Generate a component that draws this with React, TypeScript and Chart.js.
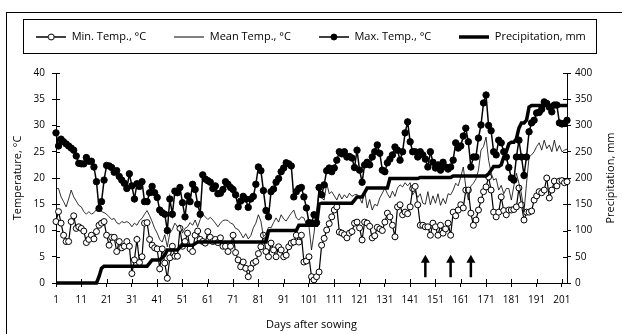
import React, { useEffect, useRef } from "react";
import { Chart, registerables } from "chart.js";

Chart.register(...registerables);

// ---- data ----
const seriesLabels = ["Min. Temp., °C", "Mean Temp., °C", "Max. Temp., °C", "Precipitation, mm"];
const rightAxisTitle = "Precipitation, mm";

const minTemp = [
  11.7, 13.6, 11.4, 9.1, 7.9, 7.9, 11.7, 12.8, 10.4, 10.7,
  10.4, 9.9, 7.7, 8.3, 9.1, 8.4, 9.8, 11.0, 11.4, 11.7,
  9.1, 7.2, 8.7, 8.7, 6.0, 7.9, 6.7, 7.0, 7.9, 7.0,
  1.8, 4.4, 8.3, 3.9, 5.0, 11.4, 11.5, 8.3, 7.2, 6.7,
  6.5, 2.7, 6.5, 3.8, 0.9, 4.8, 7.0, 5.1, 5.1, 10.4,
  7.0, 7.9, 9.5, 6.5, 6.0, 9.1, 9.9, 8.3, 7.9, 7.6,
  9.8, 8.7, 7.9, 8.3, 7.7, 8.6, 7.0, 7.0, 6.0, 7.0,
  9.1, 5.8, 4.4, 3.1, 4.0, 2.8, 1.2, 2.8, 3.8, 4.1,
  5.6, 6.9, 9.1, 6.0, 5.0, 7.6, 6.3, 5.0, 6.9, 6.3,
  5.0, 5.3, 6.9, 7.6, 7.8, 9.1, 7.8, 9.1, 4.0, 4.2,
  5.0, 1.2, 0.6, 1.2, 2.1, 7.2, 8.5, 10.1, 11.3, 12.6,
  13.9, 14.5, 9.7, 9.5, 9.2, 8.6, 9.5, 9.8, 11.4, 11.6,
  10.5, 8.2, 11.6, 11.4, 10.8, 8.6, 9.0, 10.6, 10.3, 10.0,
  11.6, 13.3, 12.6, 11.0, 8.8, 14.5, 14.9, 13.0, 13.5, 13.2,
  14.5, 18.0, 18.4, 14.9, 11.0, 11.0, 10.7, 10.7, 9.1, 11.4,
  10.7, 9.1, 11.0, 9.5, 10.3, 11.4, 9.1, 13.5, 12.8, 13.9,
  14.9, 14.3, 17.7, 17.7, 13.3, 11.0, 12.0, 13.9, 15.8, 17.4,
  18.3, 20.2, 17.7, 13.5, 12.6, 13.5, 16.4, 13.8, 13.0, 13.9,
  13.9, 14.0, 14.5, 18.1, 14.9, 12.0, 13.5, 13.5, 13.7, 15.8,
  16.6, 17.4, 17.2, 17.7, 20.0, 16.2, 17.7, 19.4, 18.5, 19.4,
  19.5, 19.1, 19.3,
];

const meanTemp = [
  18.0, 18.0, 16.4, 15.5, 14.5, 16.0, 17.7, 16.4, 15.6, 14.8,
  14.5, 13.6, 13.1, 13.6, 13.1, 13.4, 14.0, 14.5, 13.6, 13.4,
  13.1, 12.6, 12.1, 12.3, 11.5, 11.2, 11.7, 11.5, 11.7, 11.4,
  10.7, 11.4, 11.0, 11.9, 12.3, 13.1, 13.8, 12.8, 11.7, 10.4,
  9.5, 8.3, 7.8, 9.2, 6.9, 9.5, 10.2, 11.4, 10.7, 11.0,
  9.5, 10.4, 10.7, 11.5, 11.0, 12.0, 10.7, 12.1, 13.1, 12.6,
  12.1, 12.5, 12.0, 11.4, 10.7, 11.4, 11.9, 12.0, 11.9, 11.4,
  11.2, 10.4, 10.2, 9.5, 8.6, 9.4, 8.4, 9.0, 10.5, 11.4,
  13.0, 11.8, 8.8, 9.3, 10.6, 10.5, 11.5, 12.4, 11.6, 13.0,
  12.2, 11.8, 12.6, 13.3, 13.9, 12.4, 12.0, 12.6, 12.4, 11.2,
  10.8, 6.3, 9.5, 13.9, 17.7, 16.2, 15.8, 19.0, 17.0, 17.4,
  16.6, 15.8, 17.0, 16.0, 16.8, 16.2, 17.1, 16.5, 16.8, 16.9,
  16.2, 15.2, 17.7, 14.3, 15.9, 13.9, 15.0, 14.7, 16.2, 17.1,
  18.1, 17.0, 16.2, 17.5, 16.5, 18.1, 18.7, 18.3, 19.1, 18.5,
  19.1, 16.8, 17.5, 16.3, 17.0, 15.2, 15.0, 17.4, 14.9, 16.6,
  15.2, 17.0, 14.8, 16.1, 15.1, 17.0, 16.8, 17.7, 19.0, 18.5,
  20.2, 22.1, 18.3, 15.8, 18.5, 19.0, 19.8, 21.5, 25.3, 26.0,
  27.8, 23.4, 21.0, 19.6, 19.9, 17.7, 18.6, 17.0, 18.0, 18.0,
  15.8, 18.5, 20.9, 19.0, 17.0, 13.5, 19.0, 24.0, 24.4, 25.0,
  26.0, 26.7, 25.3, 27.2, 25.6, 26.3, 25.0, 27.2, 25.1, 26.2,
  25.0, 25.3, 25.5,
];

const maxTemp = [
  28.6, 26.1, 27.4, 26.9, 26.5, 26.1, 25.7, 25.3, 24.2, 22.8,
  22.7, 22.7, 23.9, 23.2, 23.2, 22.1, 19.3, 14.2, 15.5, 19.6,
  22.4, 22.3, 22.0, 21.1, 21.4, 20.3, 19.6, 19.0, 18.0, 20.8,
  18.5, 16.0, 18.9, 18.4, 19.3, 15.5, 15.5, 17.2, 18.4, 17.2,
  16.3, 13.9, 13.4, 13.1, 10.0, 16.0, 13.1, 17.5, 17.2, 18.2,
  15.3, 12.6, 16.6, 15.5, 18.8, 17.8, 15.0, 13.1, 20.6, 19.8,
  19.5, 19.2, 18.0, 18.5, 17.0, 17.1, 17.8, 19.3, 18.8, 18.2,
  17.8, 16.8, 14.5, 15.6, 16.5, 16.0, 14.4, 16.0, 16.5, 18.8,
  22.1, 21.4, 17.6, 13.8, 12.6, 17.4, 17.9, 19.2, 19.9, 21.2,
  21.9, 22.9, 22.7, 22.3, 16.4, 17.4, 18.0, 18.2, 16.4, 14.3,
  11.5, 11.4, 13.0, 11.5, 18.2, 16.8, 18.7, 21.4, 21.9, 21.2,
  21.9, 23.4, 25.0, 24.6, 25.0, 24.0, 24.1, 23.8, 22.0, 25.3,
  21.5, 19.2, 22.5, 23.0, 22.5, 24.0, 25.0, 26.3, 24.7, 21.5,
  21.2, 22.9, 23.6, 24.4, 25.9, 25.3, 23.4, 25.0, 28.6, 30.7,
  26.9, 25.0, 25.0, 24.0, 25.0, 24.4, 23.6, 22.1, 25.0, 23.0,
  21.9, 22.5, 21.5, 23.0, 22.1, 21.7, 22.1, 23.4, 26.7, 25.7,
  26.1, 28.0, 29.5, 26.9, 22.1, 24.0, 24.0, 27.6, 30.1, 34.3,
  35.8, 30.0, 29.0, 25.0, 24.4, 27.2, 26.7, 25.0, 24.0, 22.0,
  20.0, 19.6, 24.0, 27.2, 24.0, 20.5, 24.0, 28.8, 30.5, 31.0,
  32.4, 32.5, 33.1, 34.5, 34.2, 33.5, 32.6, 33.9, 33.9, 30.5,
  30.3, 30.4, 31.0,
];

const precipitation = [
  0, 0, 0, 0, 0, 0, 0, 0, 0, 0,
  0, 0, 0, 0, 0, 0, 0, 12, 28, 32,
  32, 32, 32, 32, 32, 32, 32, 32, 32, 32,
  32, 32, 32, 32, 32, 32, 32, 38, 44, 44,
  44, 44, 48, 53, 63, 63, 63, 63, 63, 68,
  72, 72, 72, 72, 72, 75, 78, 78, 78, 78,
  78, 78, 78, 78, 78, 78, 78, 78, 78, 78,
  78, 78, 78, 78, 78, 78, 78, 78, 78, 78,
  78, 78, 78, 78, 99, 100, 100, 100, 100, 100,
  100, 100, 100, 100, 100, 100, 110, 110, 110, 110,
  110, 110, 110, 110, 150, 152, 152, 152, 152, 152,
  152, 152, 152, 152, 152, 152, 152, 152, 158, 164,
  164, 164, 172, 181, 181, 181, 181, 181, 181, 181,
  181, 181, 199, 199, 199, 199, 199, 199, 199, 199,
  199, 199, 199, 199, 201, 201, 201, 201, 201, 201,
  201, 201, 201, 201, 201, 201, 201, 204, 204, 204,
  204, 204, 204, 204, 204, 204, 204, 204, 204, 204,
  204, 208, 215, 222, 222, 222, 225, 240, 250, 265,
  268, 268, 275, 295, 305, 305, 310, 335, 338, 338,
  338, 338, 338, 338, 338, 338, 338, 338, 338, 338,
  338, 338, 338,
];

const dayTickLabels = [1, 11, 21, 31, 41, 51, 61, 71, 81, 91, 101, 111, 121, 131, 141, 151, 161, 171, 181, 191, 201];
const arrowDays = [147, 157, 165];

const FONT = "'Open Sans', 'Noto Sans', sans-serif";

function makeIcon(kind: string): HTMLCanvasElement {
  const c = document.createElement("canvas");
  c.width = 30;
  c.height = 10;
  const ctx = c.getContext("2d")!;
  ctx.strokeStyle = "#000";
  ctx.lineWidth = kind === "precip" ? 3.5 : kind === "mean" ? 1 : 1.5;
  ctx.beginPath();
  ctx.moveTo(0, 5);
  ctx.lineTo(30, 5);
  ctx.stroke();
  if (kind === "min" || kind === "max") {
    ctx.beginPath();
    ctx.arc(15, 5, 3, 0, Math.PI * 2);
    ctx.fillStyle = kind === "min" ? "#fff" : "#000";
    ctx.fill();
    ctx.lineWidth = 1;
    ctx.stroke();
  }
  return c;
}

export default function App() {
  const ref = useRef<HTMLCanvasElement | null>(null);

  useEffect(() => {
    if (!ref.current) return;
    const days = minTemp.map((_, i) => i + 1);
    const pts = (arr: number[]) => arr.map((v, i) => ({ x: days[i], y: v }));
    const icons = [makeIcon("min"), makeIcon("mean"), makeIcon("max"), makeIcon("precip")];

    const framePlugin = {
      id: "frame",
      afterInit(chart: any) {
        const lg = chart.legend;
        if (lg) {
          const proto = Object.getPrototypeOf(lg);
          lg.fit = function () {
            proto.fit.call(this);
            this.height += 20.5;
          };
        }
      },
      beforeDraw(chart: any) {
        const ctx = chart.ctx;
        ctx.save();
        ctx.fillStyle = "#fff";
        ctx.fillRect(0, 0, chart.width, chart.height);
        ctx.strokeStyle = "#000";
        ctx.lineWidth = 1;
        ctx.strokeRect(6.5, 12.5, 800, 600);
        ctx.restore();
      },
      afterDraw(chart: any) {
        const ctx = chart.ctx;
        const hb = chart.legend?.legendHitBoxes;
        ctx.save();
        ctx.strokeStyle = "#000";
        ctx.fillStyle = "#000";
        ctx.lineWidth = 1;
        if (hb && hb.length) {
          const left = Math.round(hb[0].left - 13) + 0.5;
          const last = hb[hb.length - 1];
          const right = Math.round(last.left + last.width + 10) + 0.5;
          const cy = hb[0].top + hb[0].height / 2;
          const top = Math.round(cy - 18) + 0.5;
          ctx.strokeRect(left, top, right - left, 34);
        }
        // inner half of the crossing tick marks
        const { x, y, y1 } = chart.scales;
        ctx.beginPath();
        x.ticks.forEach((t: any) => {
          const px = Math.round(x.getPixelForValue(t.value)) + 0.5;
          ctx.moveTo(px, x.top);
          ctx.lineTo(px, x.top - 4);
        });
        y.ticks.forEach((t: any) => {
          const py = Math.round(y.getPixelForValue(t.value)) + 0.5;
          ctx.moveTo(y.right, py);
          ctx.lineTo(y.right + 4, py);
        });
        y1.ticks.forEach((t: any) => {
          const py = Math.round(y1.getPixelForValue(t.value)) + 0.5;
          ctx.moveTo(y1.left, py);
          ctx.lineTo(y1.left - 4, py);
        });
        ctx.stroke();
        // right axis title, reading bottom-to-top
        const ca = chart.chartArea;
        ctx.translate(y1.right - 5, (ca.top + ca.bottom) / 2);
        ctx.rotate(-Math.PI / 2);
        ctx.font = `11px ${FONT}`;
        ctx.textAlign = "center";
        ctx.textBaseline = "middle";
        ctx.fillText(rightAxisTitle, 0, 0);
        ctx.restore();
      },
      afterDatasetsDraw(chart: any) {
        const ctx = chart.ctx;
        const { x, y } = chart.scales;
        ctx.save();
        ctx.strokeStyle = "#000";
        ctx.fillStyle = "#000";
        arrowDays.forEach((d) => {
          const px = x.getPixelForValue(d);
          const bottom = y.getPixelForValue(1.1);
          const top = y.getPixelForValue(5.4);
          ctx.lineWidth = 2.5;
          ctx.beginPath();
          ctx.moveTo(px, bottom);
          ctx.lineTo(px, top + 6);
          ctx.stroke();
          ctx.beginPath();
          ctx.moveTo(px, top);
          ctx.lineTo(px - 4.5, top + 8);
          ctx.lineTo(px + 4.5, top + 8);
          ctx.closePath();
          ctx.fill();
        });
        ctx.restore();
      },
    };

    const chart = new Chart(ref.current, {
      type: "line",
      data: {
        datasets: [
          {
            label: seriesLabels[0],
            data: pts(minTemp),
            yAxisID: "y",
            borderColor: "#000",
            borderWidth: 1.2,
            pointRadius: 3,
            pointBackgroundColor: "#fff",
            pointBorderColor: "#000",
            pointBorderWidth: 1,
            order: 4,
            clip: false,
          },
          {
            label: seriesLabels[1],
            data: pts(meanTemp),
            yAxisID: "y",
            borderColor: "#000",
            borderWidth: 0.8,
            pointRadius: 0,
            order: 3,
            clip: false,
          },
          {
            label: seriesLabels[2],
            data: pts(maxTemp),
            yAxisID: "y",
            borderColor: "#000",
            borderWidth: 1.5,
            pointRadius: 3.2,
            pointBackgroundColor: "#000",
            pointBorderColor: "#000",
            pointBorderWidth: 1,
            order: 2,
            clip: false,
          },
          {
            label: seriesLabels[3],
            data: pts(precipitation),
            yAxisID: "y1",
            borderColor: "#000",
            borderWidth: 3.5,
            pointRadius: 0,
            order: 1,
            clip: false,
          },
        ],
      } as any,
      options: {
        animation: false,
        responsive: false,
        maintainAspectRatio: false,
        layout: { padding: { top: 3.5, left: 6, right: 6, bottom: 2 } },
        font: { family: FONT },
        plugins: {
          tooltip: { enabled: false },
          legend: {
            position: "top",
            labels: {
              usePointStyle: true,
              pointStyleWidth: 30,
              padding: 28,
              color: "#000",
              font: { size: 11, family: FONT },
              generateLabels: (c: any) =>
                c.data.datasets.map((ds: any, i: number) => ({
                  text: ds.label,
                  pointStyle: icons[i],
                  datasetIndex: i,
                  hidden: false,
                  lineWidth: 0,
                  strokeStyle: "rgba(0,0,0,0)",
                  fillStyle: "rgba(0,0,0,0)",
                  fontColor: "#000",
                })),
            },
          },
        },
        scales: {
          x: {
            type: "linear",
            min: 1,
            max: 203,
            afterBuildTicks: (s: any) => {
              s.ticks = dayTickLabels.map((v) => ({ value: v }));
            },
            afterFit: (s: any) => {
              s.height = 49;
            },
            ticks: {
              autoSkip: false,
              maxRotation: 0,
              padding: 7,
              color: "#000",
              font: { size: 10, family: FONT },
              callback: (v: any) => String(v),
            },
            grid: { drawOnChartArea: false, tickLength: 4, color: "#000", tickColor: "#000" },
            border: { color: "#000", width: 1 },
            title: {
              display: true,
              text: "Days after sowing",
              color: "#000",
              font: { size: 11, family: FONT },
              padding: { top: 0, bottom: 1 },
            },
          },
          y: {
            position: "left",
            min: 0,
            max: 40,
            afterFit: (s: any) => {
              s.width = 50;
            },
            ticks: { stepSize: 5, padding: 7, color: "#000", font: { size: 10, family: FONT } },
            grid: { drawOnChartArea: false, tickLength: 4, color: "#000", tickColor: "#000" },
            border: { color: "#000", width: 1 },
            title: {
              display: true,
              text: "Temperature, °C",
              color: "#000",
              font: { size: 11, family: FONT },
              padding: { top: 5, bottom: 0 },
            },
          },
          y1: {
            position: "right",
            min: 0,
            max: 400,
            afterFit: (s: any) => {
              s.width = 49;
            },
            ticks: { stepSize: 50, padding: 4, color: "#000", font: { size: 10, family: FONT } },
            grid: { drawOnChartArea: false, tickLength: 4, color: "#000", tickColor: "#000" },
            border: { color: "#000", width: 1 },
            title: { display: false },
          },
        },
      } as any,
      plugins: [framePlugin],
    });
    return () => chart.destroy();
  }, []);

  return (
    <div style={{ position: "absolute", left: 0, top: 0, width: 622, height: 334, background: "#fff" }}>
      <canvas ref={ref} width={622} height={334} style={{ display: "block", width: 622, height: 334 }} />
    </div>
  );
}
